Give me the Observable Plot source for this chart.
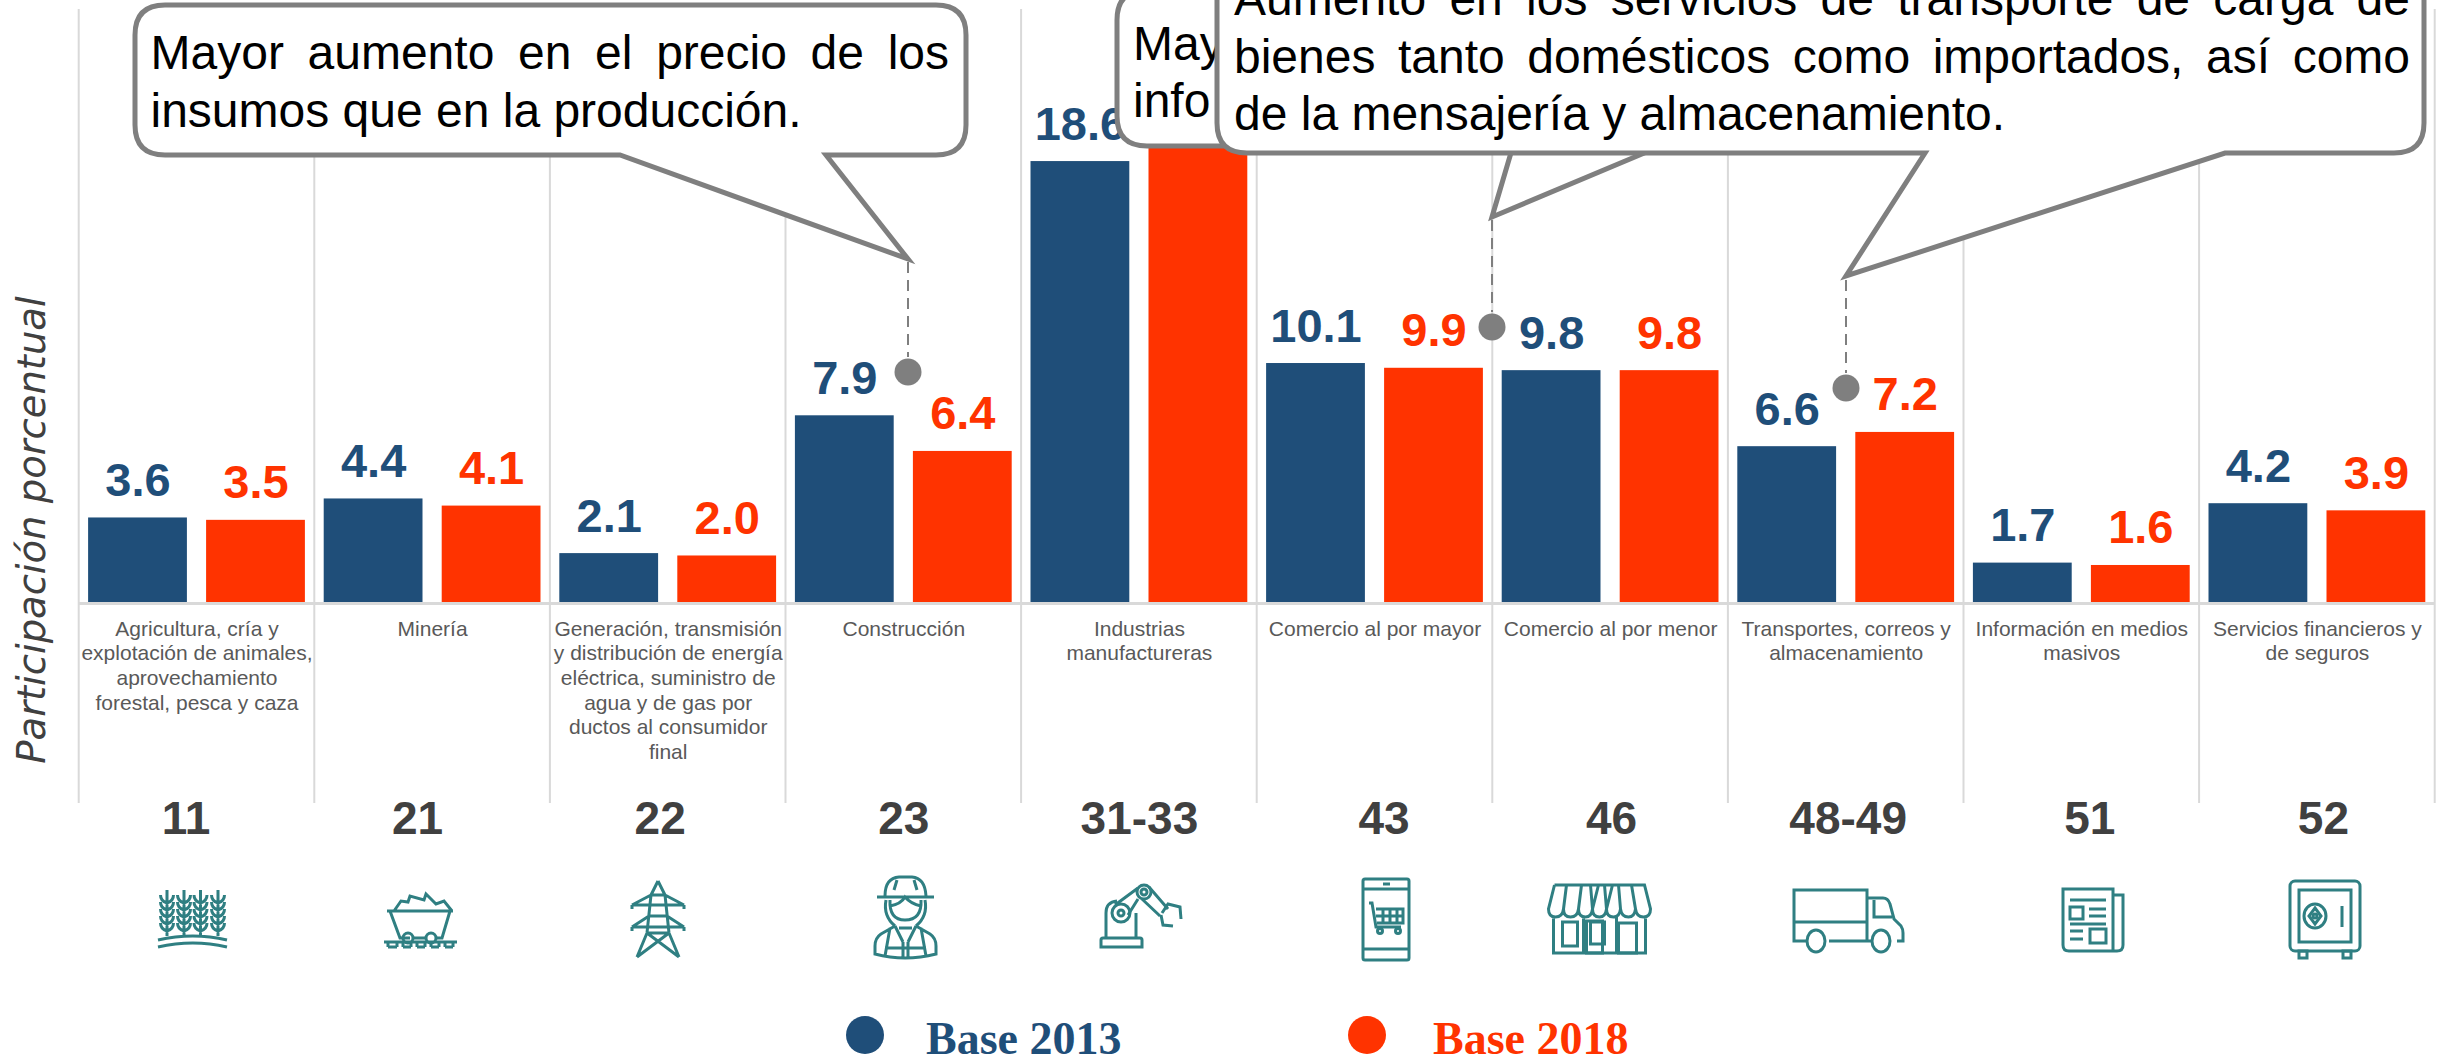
<!DOCTYPE html>
<html lang="es">
<head>
<meta charset="utf-8">
<script src="https://cdn.jsdelivr.net/npm/d3@7"></script>
<script src="https://cdn.jsdelivr.net/npm/@observablehq/plot@0.6"></script>
<style>
html,body{margin:0;padding:0;background:#fff;overflow:hidden}
svg{display:block}
</style>
</head>
<body>
<div id="chart"></div>
<script>
const codes = ["11","21","22","23","31-33","43","46","48-49","51","52"];
const sectors = [
  "Agricultura, cría y\nexplotación de animales,\naprovechamiento\nforestal, pesca y caza",
  "Minería",
  "Generación, transmisión\ny distribución de energía\neléctrica, suministro de\nagua y de gas por\nductos al consumidor\nfinal",
  "Construcción",
  "Industrias\nmanufactureras",
  "Comercio al por mayor",
  "Comercio al por menor",
  "Transportes, correos y\nalmacenamiento",
  "Información en medios\nmasivos",
  "Servicios financieros y\nde seguros"
];
const base2013 = [3.6,4.4,2.1,7.9,18.6,10.1,9.8,6.6,1.7,4.2];
const base2018 = [3.5,4.1,2.0,6.4,19.6,9.9,9.8,7.2,1.6,3.9];
const seriesNames = ["Base 2013","Base 2018"];
const seriesColors = ["#1F4E79","#FF3300"];
const yLabel = "Participación porcentual";
const codeOffsets = [-11,-15,-8,0,0,9,1,2,8,6];

const rows = codes.flatMap((code,i)=>[
  {code, base:seriesNames[0], value:base2013[i]},
  {code, base:seriesNames[1], value:base2018[i]}
]);
const sectorRows = codes.map((code,i)=>({code, label:sectors[i]}));

const W=2450, H=1057, LEFT=78.7, STEP=235.6, BASE=603, PXU=23.76;
const GRAY="#7f7f7f", ICON="#2f7f82", FONT="'Liberation Sans',Arial,sans-serif";

// overlay helper: one un-faceted mark that draws annotation SVG
function overlay(draw){
  return Plot.text([0],{facet:"super",frameAnchor:"middle",text:()=>"x",render:()=>{
    const g=d3.create("svg:g").attr("text-anchor","start"); draw(g); return g.node();
  }});
}
const cv=document.createElement("canvas").getContext("2d");
function justified(g,text,x,y,size,target){
  cv.font=`${size}px 'Liberation Sans'`;
  const spaces=(text.match(/ /g)||[]).length;
  const ws=target?(target-cv.measureText(text).width)/spaces:0;
  g.append("text").attr("x",x).attr("y",y).attr("font-family",FONT).attr("font-size",size)
   .attr("fill","#000").style("word-spacing",ws+"px").text(text);
}
function callout(g,x0,y0,x1,y1,r,a,tipX,tipY,b){
  const d=`M${x0+r} ${y0}H${x1-r}Q${x1} ${y0} ${x1} ${y0+r}V${y1-r}Q${x1} ${y1} ${x1-r} ${y1}H${b}L${tipX} ${tipY}L${a} ${y1}H${x0+r}Q${x0} ${y1} ${x0} ${y1-r}V${y0+r}Q${x0} ${y0} ${x0+r} ${y0}Z`;
  g.append("path").attr("d",d).attr("fill","#fff").attr("stroke",GRAY).attr("stroke-width",5).attr("stroke-linejoin","miter");
}
function leader(g,x,y1,y2){
  g.append("line").attr("x1",x).attr("x2",x).attr("y1",y1).attr("y2",y2)
   .attr("stroke",GRAY).attr("stroke-width",2).attr("stroke-dasharray","11 7");
  g.append("circle").attr("cx",x).attr("cy",y2+15).attr("r",13.5).attr("fill",GRAY);
}

const icons = [
 {x:158,y:890,draw:()=>{
   let s="M0 50Q35 42 69 50M0 57Q35 49 69 57";
   for(const x of [9,26,42.5,60]){
     s+=`M${x} 0V46`;
     for(let k=0;k<5;k++) s+=`M${x-6.5} ${5+k*7}Q${x-6.5} ${11+k*7} ${x} ${13+k*7}Q${x+6.5} ${11+k*7} ${x+6.5} ${5+k*7}`;
   }
   return `<path d="${s}"/>`;}},
 {x:384,y:892,draw:()=>`<path d="M10 19L17 9L24 10L26 4L40 8L42 2L52 12L60 9L68 19M3 19H69M6 19L16 46H26M30 46H42M52 46H58L66 19M0 50H73M4 55H13M19 55H27M33 55H41M47 55H55M61 55H69M4 50V55M13 50V55M19 50V55M27 50V55M33 50V55M41 50V55M47 50V55M55 50V55M61 50V55M69 50V55"/><circle cx="24" cy="46" r="5"/><circle cx="47" cy="46" r="5"/>`},
 {x:632,y:881,draw:()=>`<path d="M26 0L19 14L15 52L5 76M26 0L33 14L37 52L47 76M19 14H33M0 24L19 14M52 24L33 14M0 24H52M0 24V28M52 24V28M0 46L17 35M52 46L35 35M0 46H52M0 46V50M52 46V50M17 35H35M15 52H37M15 52L47 76M37 52L5 76"/>`},
 {x:875,y:876,draw:()=>`<path d="M10 20Q10 2 24 1H37Q50 2 51 20M2 21H59M22 4L19 14M39 4L42 14M15 24Q14 44 30 44Q47 44 46 24M15 30Q26 28 30 21Q36 28 46 30M11 24Q8 40 20 50M50 24Q53 40 41 50M20 50L6 58Q0 62 0 70V78Q30 86 61 78V70Q61 62 55 58L41 50M15 52L10 80M46 52L51 80M20 50L28 66M41 50L33 66M28 66V82M33 66V82M10 72H51M24 52H37"/>`},
 {x:1100,y:885,draw:()=>`<path d="M1 62V55Q1 53 3 53H40Q42 53 42 55V62ZM6 53V28Q6 17 17 16M36 53V28M15 20L38 3M28 30L38 14M49 2L68 24M42 14L60 31M62 28L68 19L80 22L81 34M61 30L63 40L73 41"/><circle cx="21" cy="28" r="9"/><circle cx="21" cy="28" r="3"/><circle cx="44" cy="7" r="7"/><circle cx="44" cy="7" r="3"/>`},
 {x:1363,y:879,draw:()=>`<rect x="0" y="0" width="46" height="81" rx="2"/><path d="M0 10H46M0 70H46M20 5H27M6 24H9L13 48H38M13 30H40V44H14M20 30V44M27 30V44M34 30V44M13 37H40"/><circle cx="17" cy="52" r="2.5"/><circle cx="35" cy="52" r="2.5"/>`},
 {x:1548.5,y:885,draw:()=>{
   let s="M6 0H96L102 24Q102 32 95 32Q88 32 87 24Q86 32 80 32Q73 32 72 24Q71 32 65 32Q58 32 58 24Q57 32 51 32Q44 32 44 24Q43 32 37 32Q30 32 30 24Q29 32 22 32Q15 32 15 24Q14 32 7 32Q0 32 0 24L6 0";
   s+="M15 24L18 0M30 24L33 0M44 24L42 0M44 24L50 0M58 24L56 0M58 24L64 0M72 24L70 0M87 24L83 0";
   s+="M5 32V68H97V32M35 32V68M68 32V68";
   return `<path d="${s}"/><rect x="14" y="37" width="15" height="24"/><rect x="38" y="36" width="16" height="32"/><rect x="42" y="37" width="14" height="22"/><rect x="70" y="38" width="18" height="30"/>`;}},
 {x:1793,y:889,draw:()=>`<path d="M13 52H1V1H74V52H36M1 33H74M74 9H90Q95 9 97 15L101 30L108 37Q110 40 110 44V52H104M81 11V28H99M74 52H78"/><ellipse cx="23" cy="52" rx="9" ry="11"/><ellipse cx="88" cy="52" rx="9" ry="11"/>`},
 {x:2063,y:889,draw:()=>`<path d="M0 0H50V62H6Q0 62 0 56ZM50 6H60V56Q60 62 54 62H50M7 11H43M26 20H43M26 27H43M7 35H43M7 42H20M7 50H20"/><rect x="7" y="18" width="13" height="12"/><rect x="27" y="40" width="16" height="14"/>`},
 {x:2290,y:881,draw:()=>`<rect x="0" y="0" width="70" height="70" rx="5"/><rect x="9" y="9" width="52" height="52"/><rect x="9" y="70" width="8" height="7"/><rect x="53" y="70" width="8" height="7"/><ellipse cx="25" cy="35" rx="11" ry="12"/><path d="M25 27L31 35L25 43L19 35ZM52 25V46"/><circle cx="25" cy="35" r="2"/>`}
];

const plot = Plot.plot({
  width:W, height:H,
  marginTop:0, marginLeft:LEFT, marginRight:W-LEFT-STEP*10, marginBottom:H-BASE,
  style:{background:"#fff",fontFamily:FONT},
  fx:{domain:codes,paddingInner:0,paddingOuter:0,round:false,axis:null,label:null},
  x:{domain:seriesNames,paddingInner:0.1627,paddingOuter:0.0797,round:false,axis:null,label:null},
  y:{domain:[0,BASE/PXU],axis:null,label:null},
  color:{domain:seriesNames,range:seriesColors},
  marks:[
    overlay(g=>{
      for(let i=0;i<=10;i++)
        g.append("line").attr("x1",LEFT+i*STEP).attr("x2",LEFT+i*STEP).attr("y1",9).attr("y2",803)
         .attr("stroke","#d9d9d9").attr("stroke-width",2);
    }),
    Plot.barY(rows,{fx:"code",x:"base",y:"value",fill:"base"}),
    Plot.ruleY([0],{stroke:"#d9d9d9",strokeWidth:3}),
    Plot.text(rows,{fx:"code",x:"base",y:"value",text:d=>d.value.toFixed(1),fill:"base",
      fontSize:47,fontWeight:"bold",fontFamily:FONT,lineAnchor:"bottom",dy:-22}),
    Plot.text(sectorRows,{fx:"code",text:"label",frameAnchor:"bottom",lineAnchor:"top",dy:14.5,
      fontSize:21,lineHeight:1.176,fill:"#595959",fontFamily:FONT,textAnchor:"middle"}),
    ...codes.map((c,i)=>Plot.text([c],{fx:d=>d,text:d=>d,frameAnchor:"bottom",lineAnchor:"bottom",
      dx:codeOffsets[i],dy:230,fontSize:46,fontWeight:"bold",fill:"#404040",fontFamily:FONT})),
    overlay(g=>{
      // y label
      g.append("text").attr("transform",`translate(45,530) rotate(-90)`).attr("text-anchor","middle")
       .attr("font-family","'DejaVu Sans'").attr("font-style","italic").attr("font-size",38.5).attr("fill","#404040").text(yLabel);
      // icons
      for(const ic of icons){
        const ig=g.append("g").attr("transform",`translate(${ic.x},${ic.y})`).attr("fill","none")
          .attr("stroke",ICON).attr("stroke-width",3);
        ig.html(ic.draw());
      }
      // legend
      [[865,926],[1367,1433]].forEach(([cx,tx],i)=>{
        g.append("circle").attr("cx",cx).attr("cy",1035).attr("r",19).attr("fill",seriesColors[i]);
        g.append("text").attr("x",tx).attr("y",1054).attr("font-family","'Liberation Serif',serif")
         .attr("font-weight","bold").attr("font-size",46).attr("fill",seriesColors[i]).text(seriesNames[i]);
      });
      // callouts
      leader(g,908,262,357);
      callout(g,135,5,966,155,30,620,908,259,826);
      justified(g,"Mayor aumento en el precio de los",150.5,69,48,798.5);
      justified(g,"insumos que en la producción.",150.5,127,48);
      leader(g,1492,220,312);
      leader(g,1846,280,373);
      callout(g,1117,-10,1300,146,30,1513,1492,217,1661);
      justified(g,"May",1133,60,48);
      justified(g,"info",1133,117,48);
      callout(g,1217,-40,2424,153,30,1925,1846,276,2225);
      justified(g,"Aumento en los servicios de transporte de carga de",1234,15,48,1176);
      justified(g,"bienes tanto domésticos como importados, así como",1234,73,48,1176);
      justified(g,"de la mensajería y almacenamiento.",1234,130,48);
    })
  ]
});
document.getElementById("chart").appendChild(plot);
</script>
</body>
</html>
